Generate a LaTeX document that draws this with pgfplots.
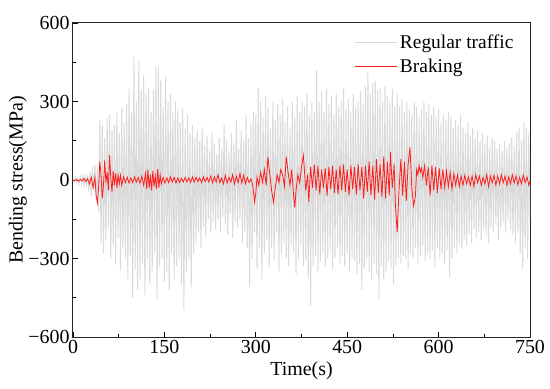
\documentclass[border=0pt]{standalone}
\usepackage{fontspec}
\setmainfont{Liberation Serif}
\usepackage{pgfplots}
\pgfplotsset{compat=1.18}
\definecolor{lgray}{RGB}{218,218,218}
\definecolor{bred}{RGB}{255,30,30}
\begin{document}
\begin{tikzpicture}
\begin{axis}[
  scale only axis, width=457bp, height=314bp,
  xmin=0, xmax=750, ymin=-600, ymax=600,
  xtick={0,150,300,450,600,750},
  ytick={-600,-300,0,300,600},
  yticklabels={−600,−300,0,300,600},
  minor tick num=1,
  tick align=inside, xtick pos=bottom, ytick pos=left,
  major tick length=5bp, minor tick length=3bp,
  every tick/.style={black, line width=0.8bp},
  axis line style={black!85, line width=1bp},
  /pgf/number format/assume math mode=true,
  font=\fontsize{20}{24}\selectfont,
  xlabel={Time(s)}, ylabel={Bending stress(MPa)},
  xlabel style={at={(axis description cs:0.5,0)}, anchor=base, yshift=-38bp},
  ylabel style={at={(axis description cs:-0.1204,0.5)}, anchor=center},
  legend style={draw=none, fill=none, at={(0.975,0.975)}, anchor=north east, row sep=5bp, font=\fontsize{19.5}{23}\selectfont},
  legend cell align=left,
  legend image code/.code={\draw[#1] (0bp,0bp) -- (42bp,0bp);},
]
\addplot[lgray, line width=1bp] coordinates {
(0,5)(2,-8)(4,12)(6,-10)(8,8)(10,-15)(12,14)(14,-12)(16,18)(18,-20)(20,15)(22,-18)(24,20)
(26,-45)(28,35)(30,-60)(32,50)(34,-40)(36,60)(38,-70)(40,45)(42,-120)
(44,230)(46,-240)(48,210)(50,-280)(52,160)(54,-230)(56,235)(58,-180)(60,250)(62,-300)(64,190)(66,-250)(68,210)(70,-320)(72,260)(74,-220)(76,180)(78,-345)(80,275)(82,-260)(84,220)(86,-300)(88,290)(90,-380)
(92,350)(94,-290)(96,260)(98,-450)(100,470)(102,-340)(104,300)(106,-420)(108,455)(110,-380)(112,345)(114,-320)(116,400)(118,-440)(120,330)(122,-300)(124,350)(126,-400)(128,260)(130,-350)
(132,345)(134,-280)(136,430)(138,-460)(140,430)(142,-330)(144,380)(146,-300)(148,280)(150,-390)(152,395)(154,-350)(156,300)(158,-420)(160,330)(162,-280)(164,260)(166,-380)(168,300)(170,-330)(172,270)(174,-300)(176,220)(178,-400)(180,275)(182,-495)(184,200)(186,-350)(188,250)(190,-300)(192,180)(194,-410)(196,210)(198,-280)(200,160)
(202,-240)(204,190)(206,-200)(208,150)(210,-260)(212,200)(214,-180)(216,130)(218,-220)(220,170)(222,-150)(224,110)(226,-200)(228,180)(230,-160)(232,140)(234,-190)(236,100)(238,-150)(240,160)(242,-200)(244,120)(246,-140)(248,210)(250,-170)(252,150)(254,-210)(256,110)(258,-130)(260,180)(262,-220)(264,140)(266,-160)(268,230)(270,-180)(272,120)(274,-150)(276,190)(278,-240)(280,150)(282,-200)(284,250)(286,-260)(288,160)(290,-410)
(292,220)(294,-300)(296,260)(298,-200)(300,250)(302,-340)(304,350)(306,-260)(308,300)(310,-380)(312,240)(314,-280)(316,320)(318,-230)(320,280)(322,-330)(324,200)(326,-260)(328,300)(330,-310)(332,230)(334,-200)(336,290)(338,-350)(340,250)(342,-280)(344,310)(346,-240)(348,220)(350,-300)(352,280)(354,-330)(356,200)(358,-250)(360,300)(362,-280)(364,240)(366,-360)(368,320)(370,-300)(372,260)(374,-250)(376,300)(378,-330)(380,280)(382,-310)(384,330)(386,-380)(388,250)(390,-480)(392,300)(394,-330)(396,260)(398,-290)
(400,420)(402,-350)(404,300)(406,-310)(408,340)(410,-280)(412,260)(414,-330)(416,350)(418,-300)(420,290)(422,-270)(424,320)(426,-340)(428,250)(430,-300)(432,330)(434,-260)(436,280)(438,-320)(440,300)(442,-290)(444,350)(446,-330)(448,270)(450,-280)(452,310)(454,-350)(456,260)(458,-300)(460,330)(462,-310)(464,280)(466,-360)(468,300)(470,-320)(472,340)(474,-420)(476,290)(478,-340)(480,360)(482,-300)(484,415)(486,-350)(488,330)(490,-380)(492,370)(494,-320)(496,380)(498,-360)(500,340)(502,-460)(504,350)(506,-330)(508,300)(510,-380)(512,360)(514,-350)(516,320)(518,-310)(520,300)(522,-340)(524,350)(526,-400)(528,280)(530,-330)(532,330)(534,-300)(536,280)(538,-320)(540,310)(542,-290)(544,260)(546,-300)(548,300)(550,-340)(552,270)(554,-280)(556,250)(558,-300)
(560,300)(562,-260)(564,280)(566,-320)(568,240)(570,-290)(572,270)(574,-250)(576,300)(578,-310)(580,260)(582,-280)(584,290)(586,-300)(588,250)(590,-270)(592,280)(594,-330)(596,240)(598,-260)(600,270)(602,-300)(604,220)(606,-280)(608,250)(610,-320)(612,230)(614,-270)(616,260)(618,-370)(620,240)(622,-300)(624,200)(626,-260)(628,230)(630,-280)(632,210)(634,-240)(636,250)(638,-260)(640,200)(642,-230)(644,180)(646,-250)(648,220)(650,-210)(652,170)(654,-240)(656,200)(658,-190)(660,160)(662,-220)(664,190)(666,-200)(668,150)(670,-230)(672,180)(674,-190)(676,140)(678,-210)(680,170)(682,-240)(684,130)(686,-180)(688,160)(690,-200)(692,150)(694,-170)(696,120)(698,-230)(700,140)(702,-180)(704,110)(706,-160)(708,150)(710,-200)(712,120)(714,-150)(716,140)(718,-190)(720,160)(722,-210)(724,130)(726,-240)(728,180)(730,-200)(732,200)(734,-280)(736,150)(738,-340)(740,220)(742,-260)(744,200)(746,-300)(748,180)(750,-150)
};
\addlegendentry{Regular traffic}
\addplot[bred, line width=0.8bp] coordinates {
(0,0)(3,-3)(6,2)(9,-5)(12,3)(15,-4)(18,6)(21,-6)(24,5)(27,-15)(30,10)(33,-30)(36,10)(38,-60)(40,-88)(42,-30)(44,70)(46,20)(48,-70)(50,-20)(52,75)(54,-10)(56,30)(58,-40)(60,95)(62,10)(64,-45)(66,35)(68,-20)(70,25)(72,-30)(74,20)(76,-15)(78,18)(80,-20)
(83,12)(86,-10)(89,10)(92,-12)(95,8)(98,-10)(101,12)(104,-8)(107,10)(110,-12)(113,15)(116,-20)(119,25)(121,-35)(123,40)(125,-30)(127,20)(129,-40)(131,35)(133,-25)(135,15)(137,-35)(139,42)(141,-30)(143,20)(145,-15)
(148,10)(151,-12)(154,8)(157,-10)(160,12)(163,-8)(166,10)(169,-12)(172,8)(175,-10)(178,6)(181,-8)(184,10)(187,-8)(190,8)(193,-10)(196,12)(199,-8)(202,10)(205,-6)(208,8)(211,-10)(214,12)(217,-6)(220,10)(223,-8)(226,15)(229,-10)(232,12)(235,-8)(238,20)(241,-10)(244,8)(247,-15)(250,18)(253,-12)(256,10)(259,-8)(262,20)(265,-15)(268,15)(271,-10)(274,25)(277,-12)(280,18)(283,-15)(286,10)(289,-10)(292,5)(295,-20)
(298,-85)(300,-50)(302,10)(305,-20)(308,30)(311,-10)(314,40)(317,-20)(320,89)(323,20)(326,-40)(329,-85)(332,-30)(335,20)(338,-10)(341,40)(344,20)(347,-25)(350,89)(353,30)(356,-20)(359,40)(362,-60)(364,-105)(366,-40)(369,20)(372,-10)(375,50)(378,95)(380,30)(382,-40)(385,20)(387,-84)
(390,50)(393,-30)(396,60)(399,-40)(402,55)(405,-55)(408,40)(411,-30)(414,45)(417,-60)(420,50)(423,-35)(426,55)(429,-50)(432,40)(435,-55)(438,55)(441,-40)(444,60)(447,-45)(450,40)(453,-60)(456,55)(459,-35)(462,50)(465,-55)(468,60)(471,-40)(474,50)(477,-70)(480,55)(483,-45)(486,70)(489,-60)(492,55)(495,-75)(498,80)(501,-50)(504,60)(507,-65)(510,90)(513,-70)(516,70)(519,-60)(521,107)(524,-30)(527,60)(529,-90)(532,-200)(535,-40)(538,80)(541,-60)(544,70)(547,-80)(550,60)(553,126)(556,-30)(559,-100)(562,-60)
(564,40)(566,20)(568,55)(570,30)(572,45)(574,10)(577,55)(580,-20)(583,50)(586,-60)(589,55)(592,-40)(595,50)(598,-50)(601,45)(604,-35)(607,40)(610,-30)(613,35)(616,-25)(619,30)(622,-35)(625,25)(628,-20)(631,20)(634,-25)(637,15)(640,-20)(643,18)(646,-15)(649,12)(652,-20)(655,15)(658,-25)(661,20)(664,-10)(667,15)(670,-20)(673,10)(676,-15)(679,20)(682,-25)(685,15)(688,-10)(691,18)(694,-20)(697,15)(700,-15)(703,20)(706,-10)(709,15)(712,-20)(715,12)(718,-15)(721,20)(724,-12)(727,15)(730,-18)(733,10)(736,-15)(739,18)(742,-10)(745,12)(748,-20)(750,-5)
};
\addlegendentry{Braking}
\end{axis}
\pgfresetboundingbox
\path ([shift={(-73bp,-52bp)}]current axis.south west) rectangle ([shift={(20bp,23bp)}]current axis.north east);
\end{tikzpicture}
\end{document}
